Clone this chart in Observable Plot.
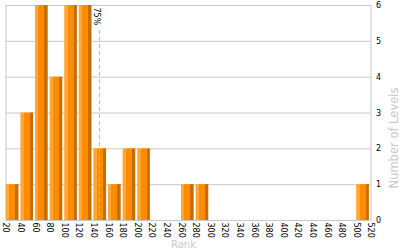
<!DOCTYPE html>
<html>
<head>
<meta charset="utf-8">
<script src="https://cdn.jsdelivr.net/npm/d3@7"></script>
<script src="https://cdn.jsdelivr.net/npm/@observablehq/plot@0.6"></script>
<style>
  html, body { margin: 0; padding: 0; background: #fff; }
  svg { display: block; }
</style>
</head>
<body>
<div id="chart"></div>
<script>
const binStarts = [20, 40, 60, 80, 100, 120, 140, 160, 180, 200, 260, 280, 500];
const counts    = [1, 3, 6, 4, 6, 6, 2, 1, 2, 2, 1, 1, 1];
const binWidth = 20;
const xTicks = [20, 40, 60, 80, 100, 120, 140, 160, 180, 200, 220, 240, 260, 280, 300, 320, 340, 360, 380, 400, 420, 440, 460, 480, 500, 520];
const yTicks = [0, 1, 2, 3, 4, 5, 6];
const percentileValue = [148];
const percentileLabel = "75%";

const bars = binStarts.map((s, i) => ({x1: s, x2: s + binWidth, count: counts[i]}));

const font = "DejaVu Sans, Verdana, sans-serif";

const svg = Plot.plot({
  width: 400,
  height: 250,
  marginLeft: 5.5,
  marginRight: 29.5,
  marginTop: 5,
  marginBottom: 30,
  style: {fontFamily: font, background: "#fff"},
  x: {domain: [20, 520]},
  y: {domain: [0, 6]},
  marks: [
    Plot.gridY(yTicks, {stroke: "#c8c8c8", strokeOpacity: 1}),
    Plot.ruleX([20, 520], {stroke: "#c8c8c8"}),
    Plot.rect(bars, {x1: "x1", x2: "x2", y1: 0, y2: "count", fill: "url(#barGrad)", insetLeft: 0.3, insetRight: 1.6}),
    Plot.ruleX(percentileValue, {stroke: "#bbbbbb", strokeDasharray: "4,3", insetTop: 25}),
    Plot.text(percentileValue, {x: d => d, text: () => percentileLabel, frameAnchor: "top", rotate: 90, textAnchor: "start", dy: 2, fontSize: 8, fill: "#000"}),
    Plot.axisY({anchor: "right", ticks: yTicks, tickFormat: "d", tickSize: 0, tickPadding: 5, fontSize: 8, label: null, fill: "#000"}),
    Plot.axisX({ticks: xTicks, tickFormat: "d", tickRotate: 90, tickSize: 0, tickPadding: 2, fontSize: 8, label: null, fill: "#000"}),
    Plot.text(["Rank"], {frameAnchor: "bottom", dx: -5, dy: 27, fontSize: 10, fill: "#c8c8c8"}),
    Plot.text(["Number of Levels"], {frameAnchor: "right", textAnchor: "middle", dx: 23, dy: 25, rotate: -90, fontSize: 11.5, fill: "#c8c8c8"})
  ]
});

const ns = "http://www.w3.org/2000/svg";
const defs = document.createElementNS(ns, "defs");
const grad = document.createElementNS(ns, "linearGradient");
grad.setAttribute("id", "barGrad");
grad.setAttribute("x1", "0"); grad.setAttribute("x2", "1");
grad.setAttribute("y1", "0"); grad.setAttribute("y2", "0");
[["0", "#ffa838"], ["0.26", "#ffa838"], ["0.26", "#ff8c00"], ["0.74", "#ff8c00"], ["0.74", "#c86e00"], ["1", "#c86e00"]].forEach(([o, c]) => {
  const st = document.createElementNS(ns, "stop");
  st.setAttribute("offset", o);
  st.setAttribute("stop-color", c);
  grad.appendChild(st);
});
defs.appendChild(grad);
svg.insertBefore(defs, svg.firstChild);

document.getElementById("chart").appendChild(svg);
</script>
</body>
</html>
